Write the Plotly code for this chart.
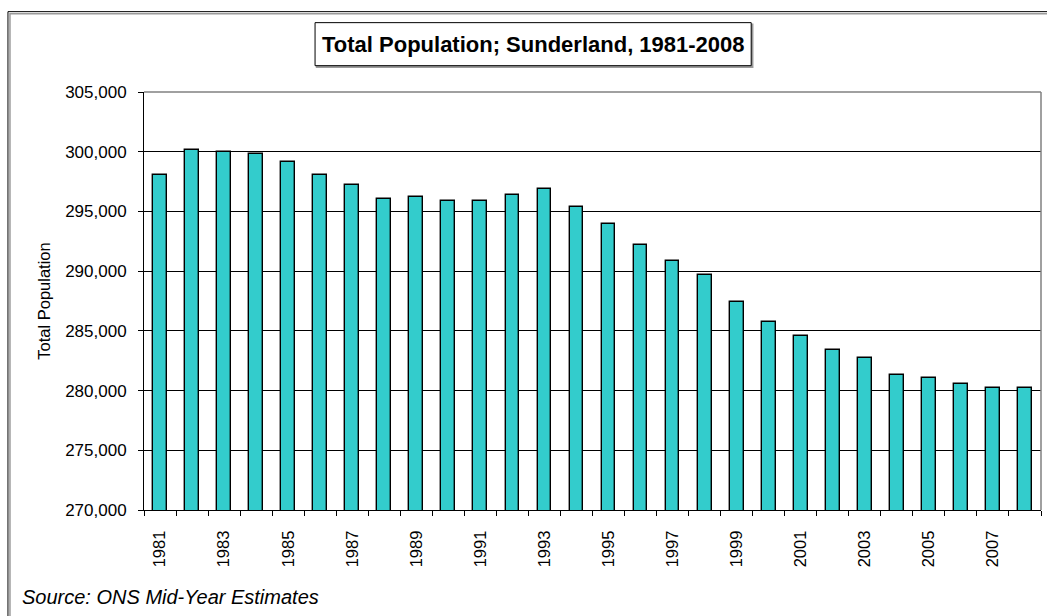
import plotly.graph_objects as go

years = list(range(1981, 2009))
population = [298050, 300170, 300000, 299830, 299160, 298050, 297210, 296060,
              296180, 295900, 295900, 296340, 296900, 295340, 293970, 292200,
              290870, 289700, 287430, 285740, 284550, 283400, 282700, 281270,
              281020, 280530, 280220, 280230]
tick_years = list(range(1981, 2009, 2))
tick_labels = [str(y) for y in tick_years]

title_text = "Total Population; Sunderland, 1981-2008"
y_title = "Total Population"
source_text = "Source: ONS Mid-Year Estimates"

W, H = 1047, 616
L, R, T, B = 144, 1040.7, 92.3, 510
pw, ph = R - L, B - T


def px(x):
    return (x - L) / pw


def py(y):
    return (B - y) / ph


FONT = "Liberation Sans, Arial, sans-serif"

fig = go.Figure()
fig.add_trace(go.Bar(
    x=years, y=population, width=0.43,
    marker=dict(color="#33CCCC", line=dict(color="black", width=1.4)),
))

fig.update_layout(
    width=W, height=H,
    margin=dict(l=L, r=W - R, t=T, b=H - B),
    paper_bgcolor="white", plot_bgcolor="white",
    showlegend=False,
    font=dict(family=FONT, color="black"),
    bargap=0,
)

fig.update_xaxes(
    range=[1980.5, 2008.5],
    tickmode="array", tickvals=tick_years, ticktext=tick_labels,
    tickangle=-90, ticks="", showgrid=False,
    tickfont=dict(size=16.5, family=FONT),
    showline=True, linecolor="black", linewidth=1,
    ticklabelstandoff=13,
    minor=dict(tick0=0.5, dtick=1, ticks="outside", ticklen=5,
               tickcolor="black", tickwidth=1, showgrid=False),
)

fig.update_yaxes(
    range=[270000, 305000], dtick=5000, tickformat=",",
    ticks="outside", ticklen=5, tickcolor="black",
    showgrid=True, gridcolor="black", gridwidth=1,
    showline=True, linecolor="black", linewidth=1,
    tickfont=dict(size=17, family=FONT),
    ticklabelstandoff=8,
    title=dict(text=y_title, font=dict(size=16.5, family=FONT), standoff=10),
    zeroline=False,
)

# plot-area border (top and right) in grey
fig.add_shape(type="line", xref="paper", yref="paper", x0=0, x1=1, y0=1, y1=1,
              line=dict(color="#808080", width=1.5))
fig.add_shape(type="line", xref="paper", yref="paper", x0=1, x1=1, y0=0, y1=1,
              line=dict(color="#808080", width=1.5))

# outer chart border with slight shadow
fig.add_shape(type="rect", xref="paper", yref="paper",
              x0=px(10), x1=px(1062), y0=py(640), y1=py(14),
              line=dict(color="#9a9a9a", width=1.5))
fig.add_shape(type="rect", xref="paper", yref="paper",
              x0=px(8), x1=px(1060), y0=py(638), y1=py(12),
              line=dict(color="black", width=1))

# title box with shadow
fig.add_shape(type="rect", xref="paper", yref="paper",
              x0=px(316.5), x1=px(752.5), y0=py(67.5), y1=py(24.5),
              line=dict(color="#9a9a9a", width=1.5), fillcolor="#9a9a9a")
fig.add_shape(type="rect", xref="paper", yref="paper",
              x0=px(315), x1=px(751), y0=py(66), y1=py(23),
              line=dict(color="black", width=1), fillcolor="white")
fig.add_annotation(xref="paper", yref="paper", x=px(533), y=py(45),
                   text="<b>" + title_text + "</b>", showarrow=False,
                   xanchor="center", yanchor="middle",
                   font=dict(size=22, family=FONT, color="black"))

fig.add_annotation(xref="paper", yref="paper", x=px(20), y=py(597),
                   text="<i>" + source_text + "</i>", showarrow=False,
                   xanchor="left", yanchor="middle",
                   font=dict(size=20, family=FONT, color="black"))

fig.write_html(
    "out.html",
    config={"displayModeBar": False},
    post_script="document.body.style.margin='0';document.body.style.padding='0';"
                "document.documentElement.style.overflow='hidden';",
)
